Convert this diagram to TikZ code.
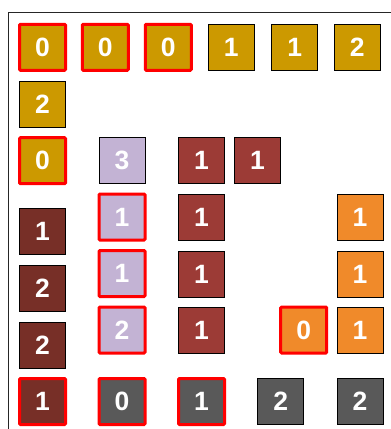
\documentclass[tikz,border=0pt]{standalone}
\usepackage{fontspec}
\setmainfont{Liberation Sans}
\definecolor{gold}{HTML}{CC9900}
\definecolor{lav}{HTML}{C3B3D4}
\definecolor{dbrown}{HTML}{772F27}
\definecolor{rbrown}{HTML}{9C3B36}
\definecolor{orng}{HTML}{F08A2A}
\definecolor{gry}{HTML}{595959}
\tikzset{
  cell/.style={minimum size=46pt, inner sep=0pt, draw=black, line width=0.8pt,
    text=white, font=\fontsize{26.5}{26.5}\selectfont\bfseries},
  hl/.style={draw=red, line width=3pt, rounded corners=1pt},
  fgold/.style={cell, fill=gold},
  flav/.style={cell, fill=lav},
  fdb/.style={cell, fill=dbrown},
  frb/.style={cell, fill=rbrown},
  for/.style={cell, fill=orng},
  fgr/.style={cell, fill=gry},
  frame/.style={draw=black!85, line width=0.9pt}
}
\begin{document}
\begin{tikzpicture}[x=1pt, y=-1pt]
\useasboundingbox (0,0) rectangle (391,429);
\coordinate (fb) at (8,432);
\coordinate (fc) at (8,12);
\coordinate (fr) at (394,12);
\draw[frame] (fb) -- (fc) -- (fr);
% top rows
\node[fgold,hl] (a1) at (42.5,47.3) {0};
\node[fgold,hl] (a2) at (105.3,47.3) {0};
\node[fgold,hl] (a3) at (168.3,47.3) {0};
\node[fgold] (a4) at (231.3,47.3) {1};
\node[fgold] (a5) at (294.7,47.3) {1};
\node[fgold] (a6) at (357.3,47.3) {2};
\node[fgold] (b1) at (42.5,104.3) {2};
% group
\node[fgold,hl] (c1) at (42.5,160.7) {0};
\node[flav] (c2) at (122,160.5) {3};
\node[frb] (c3) at (201.5,160.5) {1};
\node[frb] (c4) at (257.5,160.5) {1};
\node[fdb] (d1) at (42.5,231.5) {1};
\node[fdb] (d2) at (42.5,288.5) {2};
\node[fdb] (d3) at (42.5,345) {2};
\node[fdb,hl] (d4) at (42.5,401.5) {1};
\node[flav,hl] (e1) at (122,217) {1};
\node[flav,hl] (e2) at (122,273.5) {1};
\node[flav,hl] (e3) at (122,330) {2};
\node[fgr,hl] (e4) at (122,401.5) {0};
\node[frb] (f1) at (201.5,217.5) {1};
\node[frb] (f2) at (201.5,274) {1};
\node[frb] (f3) at (201.5,330.5) {1};
\node[fgr,hl] (f4) at (201.5,401.5) {1};
\node[for] (g1) at (360,217.3) {1};
\node[for] (g2) at (360,274) {1};
\node[for] (g3) at (360,330.5) {1};
\node[for,hl] (h1) at (303.7,330) {0};
\node[fgr] (i1) at (280.7,401.5) {2};
\node[fgr] (i2) at (360,401.5) {2};
\end{tikzpicture}
\end{document}
